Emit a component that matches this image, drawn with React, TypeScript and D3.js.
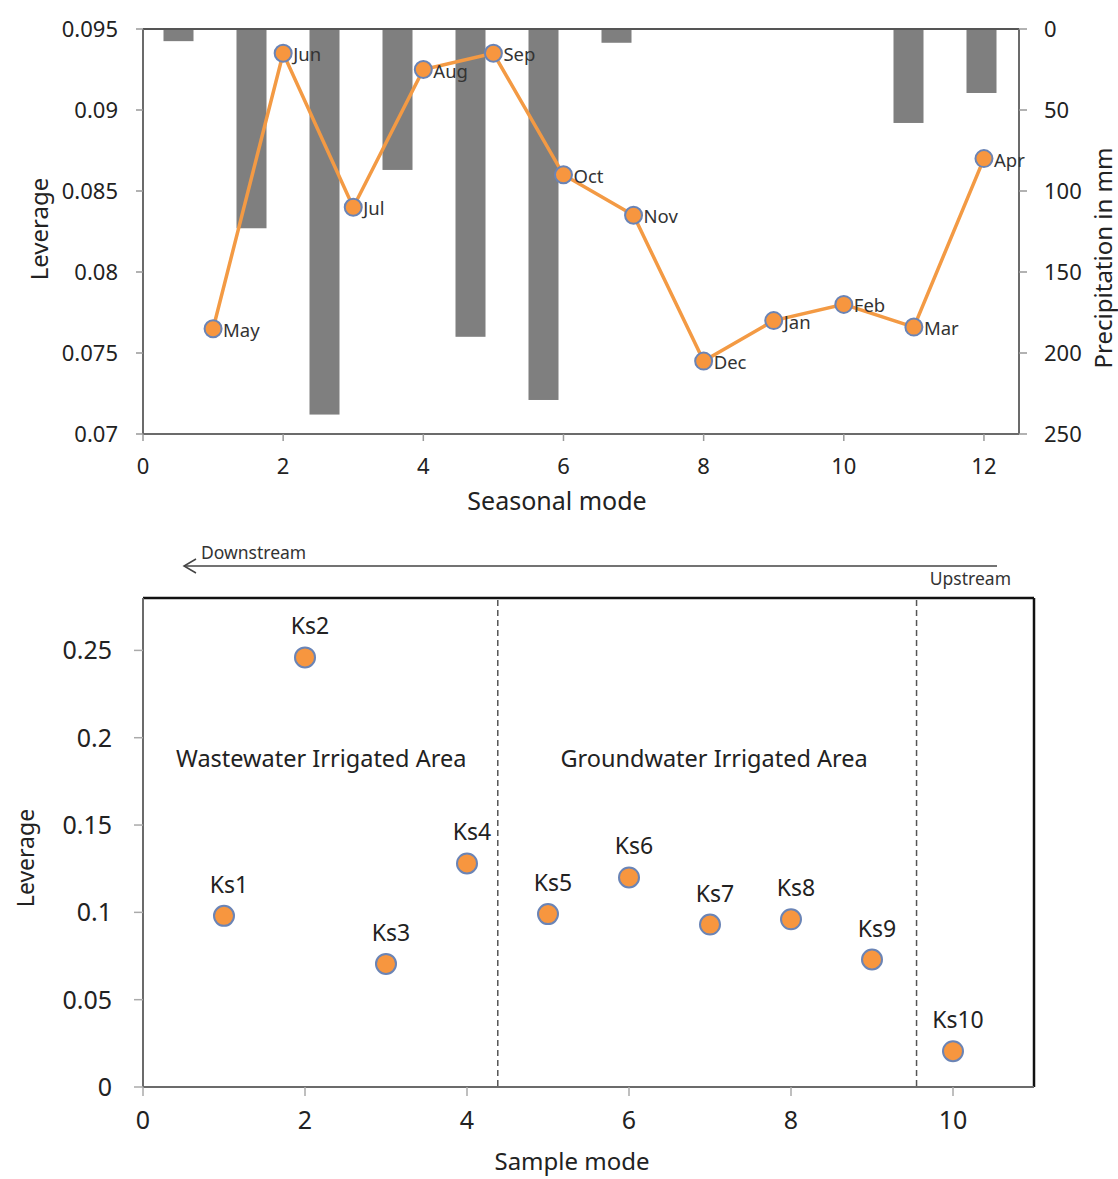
import React, { useRef, useEffect } from 'react'
import * as d3 from 'd3'

// seasonal chart
const months = ['May', 'Jun', 'Jul', 'Aug', 'Sep', 'Oct', 'Nov', 'Dec', 'Jan', 'Feb', 'Mar', 'Apr']
const seasonalMode = [1, 2, 3, 4, 5, 6, 7, 8, 9, 10, 11, 12]
const seasonalLeverage = [0.0765, 0.0935, 0.084, 0.0925, 0.0935, 0.086, 0.0835, 0.0745, 0.077, 0.078, 0.0766, 0.087]
const precipitation = [7.5, 123, 238, 87, 190, 229, 8.5, 0, 0, 0, 58, 39.5]
const seasonalXTicks = [0, 2, 4, 6, 8, 10, 12]
const leverageTicks = [0.07, 0.075, 0.08, 0.085, 0.09, 0.095]
const precipTicks = [0, 50, 100, 150, 200, 250]

// sample chart
const samples = ['Ks1', 'Ks2', 'Ks3', 'Ks4', 'Ks5', 'Ks6', 'Ks7', 'Ks8', 'Ks9', 'Ks10']
const sampleMode = [1, 2, 3, 4, 5, 6, 7, 8, 9, 10]
const sampleLeverage = [0.098, 0.246, 0.0705, 0.128, 0.099, 0.12, 0.093, 0.096, 0.073, 0.0205]
const sampleXTicks = [0, 2, 4, 6, 8, 10]
const sampleYTicks = [0, 0.05, 0.1, 0.15, 0.2, 0.25]
const areaBounds = [4.38, 9.55]
const areaLabels = [
  { text: 'Wastewater Irrigated Area', x: 2.2 },
  { text: 'Groundwater Irrigated Area', x: 7.05 },
]

const FONT = '"Noto Sans", "Open Sans", sans-serif'
const AXIS = '#6b6b6b'
const ORANGE = '#f7963f'
const RIM = '#6a84b6'

export default function App() {
  const ref = useRef<SVGSVGElement>(null)

  useEffect(() => {
    const svg = d3.select(ref.current)
    svg.selectAll('*').remove()

    // ---------- top chart ----------
    const t = { left: 143, right: 1019, top: 29, bottom: 434 }
    const x1 = d3.scaleLinear().domain([0, 12.5]).range([t.left, t.right])
    const y1 = d3.scaleLinear().domain([0.07, 0.095]).range([t.bottom, t.top])
    const yP = d3.scaleLinear().domain([0, 250]).range([t.top, t.bottom])
    const band = d3.scaleBand<number>().domain(seasonalMode).range([t.left, t.right])

    const g1 = svg.append('g')

    g1.selectAll('.bar')
      .data(precipitation)
      .join('rect')
      .attr('class', 'bar')
      .attr('x', (d, i) => band(seasonalMode[i])! + band.bandwidth() / 2 - 16)
      .attr('y', yP(0))
      .attr('width', 30)
      .attr('height', d => yP(d) - yP(0))
      .attr('fill', '#7f7f7f')

    // frame
    g1.append('line').attr('x1', t.left).attr('x2', t.right).attr('y1', t.top).attr('y2', t.top)
      .attr('stroke', '#555').attr('stroke-width', 2)
    g1.append('line').attr('x1', t.left).attr('x2', t.left).attr('y1', t.top).attr('y2', t.bottom)
      .attr('stroke', AXIS).attr('stroke-width', 2)
    g1.append('line').attr('x1', t.right).attr('x2', t.right).attr('y1', t.top).attr('y2', t.bottom)
      .attr('stroke', AXIS).attr('stroke-width', 2)
    g1.append('line').attr('x1', t.left).attr('x2', t.right).attr('y1', t.bottom).attr('y2', t.bottom)
      .attr('stroke', AXIS).attr('stroke-width', 2)

    // left ticks
    leverageTicks.forEach(v => {
      g1.append('line').attr('x1', t.left - 7).attr('x2', t.left).attr('y1', y1(v)).attr('y2', y1(v))
        .attr('stroke', '#999').attr('stroke-width', 1.5)
      g1.append('text').attr('x', t.left - 25).attr('y', y1(v) + 8)
        .attr('text-anchor', 'end').attr('font-size', 22).attr('font-family', FONT).attr('fill', '#222')
        .text(String(v))
    })
    // right ticks
    precipTicks.forEach(v => {
      g1.append('line').attr('x1', t.right).attr('x2', t.right + 8).attr('y1', yP(v)).attr('y2', yP(v))
        .attr('stroke', '#999').attr('stroke-width', 1.5)
      g1.append('text').attr('x', t.right + 25).attr('y', yP(v) + 8)
        .attr('text-anchor', 'start').attr('font-size', 22).attr('font-family', FONT).attr('fill', '#222')
        .text(String(v))
    })
    // bottom ticks
    seasonalXTicks.forEach(v => {
      g1.append('line').attr('x1', x1(v)).attr('x2', x1(v)).attr('y1', t.bottom).attr('y2', t.bottom + 7)
        .attr('stroke', '#999').attr('stroke-width', 1.5)
      g1.append('text').attr('x', x1(v)).attr('y', t.bottom + 40)
        .attr('text-anchor', 'middle').attr('font-size', 22).attr('font-family', FONT).attr('fill', '#222')
        .text(String(v))
    })

    g1.append('text').attr('x', 557).attr('y', 510).attr('text-anchor', 'middle')
      .attr('font-size', 25).attr('font-family', FONT).attr('fill', '#222').text('Seasonal mode')
    g1.append('text').attr('transform', 'translate(48,229) rotate(-90)').attr('text-anchor', 'middle')
      .attr('font-size', 24).attr('font-family', FONT).attr('fill', '#222').text('Leverage')
    g1.append('text').attr('transform', 'translate(1112,258) rotate(-90)').attr('text-anchor', 'middle')
      .attr('font-size', 24).attr('font-family', FONT).attr('fill', '#222').text('Precipitation in mm')

    const line = d3.line<number>()
      .x((d, i) => x1(seasonalMode[i]))
      .y(d => y1(d))
    g1.append('path').datum(seasonalLeverage).attr('d', line)
      .attr('fill', 'none').attr('stroke', '#f39a44').attr('stroke-width', 3.5)

    g1.selectAll('.pt')
      .data(seasonalLeverage)
      .join('circle')
      .attr('class', 'pt')
      .attr('cx', (d, i) => x1(seasonalMode[i]))
      .attr('cy', d => y1(d))
      .attr('r', 8.5)
      .attr('fill', ORANGE).attr('stroke', RIM).attr('stroke-width', 2)

    g1.selectAll('.lbl')
      .data(seasonalLeverage)
      .join('text')
      .attr('class', 'lbl')
      .attr('x', (d, i) => x1(seasonalMode[i]) + 10)
      .attr('y', d => y1(d) + 8)
      .attr('font-size', 18.5).attr('font-family', FONT).attr('fill', '#333')
      .text((d, i) => months[i])

    // ---------- bottom chart ----------
    const b = { left: 143, right: 1034, top: 598, bottom: 1087 }
    const x2 = d3.scaleLinear().domain([0, 11]).range([b.left, b.right])
    const y2 = d3.scaleLinear().domain([0, 0.28]).range([b.bottom, b.top])
    const g2 = svg.append('g')

    // arrow
    g2.append('line').attr('x1', 184).attr('x2', 997).attr('y1', 566).attr('y2', 566)
      .attr('stroke', '#444').attr('stroke-width', 1.5)
    g2.append('path').attr('d', 'M196,559 L184,566 L196,573')
      .attr('fill', 'none').attr('stroke', '#444').attr('stroke-width', 1.5)
    g2.append('text').attr('x', 201).attr('y', 559).attr('font-size', 17.5).attr('font-family', FONT)
      .attr('fill', '#333').text('Downstream')
    g2.append('text').attr('x', 1011).attr('y', 585).attr('text-anchor', 'end').attr('font-size', 17.5)
      .attr('font-family', FONT).attr('fill', '#333').text('Upstream')

    // frame
    g2.append('line').attr('x1', b.left).attr('x2', b.right).attr('y1', b.top).attr('y2', b.top)
      .attr('stroke', '#111').attr('stroke-width', 2.5)
    g2.append('line').attr('x1', b.right).attr('x2', b.right).attr('y1', b.top).attr('y2', b.bottom)
      .attr('stroke', '#111').attr('stroke-width', 2.5)
    g2.append('line').attr('x1', b.left).attr('x2', b.left).attr('y1', b.top).attr('y2', b.bottom)
      .attr('stroke', AXIS).attr('stroke-width', 2)
    g2.append('line').attr('x1', b.left).attr('x2', b.right).attr('y1', b.bottom).attr('y2', b.bottom)
      .attr('stroke', AXIS).attr('stroke-width', 2)

    sampleYTicks.forEach(v => {
      g2.append('line').attr('x1', b.left - 9).attr('x2', b.left).attr('y1', y2(v)).attr('y2', y2(v))
        .attr('stroke', '#aaa').attr('stroke-width', 1.5)
      g2.append('text').attr('x', b.left - 31).attr('y', y2(v) + 9)
        .attr('text-anchor', 'end').attr('font-size', 25).attr('font-family', FONT).attr('fill', '#222')
        .text(String(v))
    })
    sampleXTicks.forEach(v => {
      g2.append('line').attr('x1', x2(v)).attr('x2', x2(v)).attr('y1', b.bottom).attr('y2', b.bottom + 9)
        .attr('stroke', '#aaa').attr('stroke-width', 1.5)
      g2.append('text').attr('x', x2(v)).attr('y', b.bottom + 42)
        .attr('text-anchor', 'middle').attr('font-size', 25).attr('font-family', FONT).attr('fill', '#222')
        .text(String(v))
    })

    g2.append('text').attr('x', 572).attr('y', 1170).attr('text-anchor', 'middle')
      .attr('font-size', 24).attr('font-family', FONT).attr('fill', '#222').text('Sample mode')
    g2.append('text').attr('transform', 'translate(34,858) rotate(-90)').attr('text-anchor', 'middle')
      .attr('font-size', 23).attr('font-family', FONT).attr('fill', '#222').text('Leverage')

    areaBounds.forEach(v => {
      g2.append('line').attr('x1', x2(v)).attr('x2', x2(v)).attr('y1', b.top + 2).attr('y2', b.bottom)
        .attr('stroke', '#555').attr('stroke-width', 1.5).attr('stroke-dasharray', '6,4')
    })
    areaLabels.forEach(a => {
      g2.append('text').attr('x', x2(a.x)).attr('y', 767).attr('text-anchor', 'middle')
        .attr('font-size', 23.5).attr('font-family', FONT).attr('fill', '#222').text(a.text)
    })

    g2.selectAll('.spt')
      .data(sampleLeverage)
      .join('circle')
      .attr('class', 'spt')
      .attr('cx', (d, i) => x2(sampleMode[i]))
      .attr('cy', d => y2(d))
      .attr('r', 10)
      .attr('fill', ORANGE).attr('stroke', RIM).attr('stroke-width', 2)

    g2.selectAll('.slbl')
      .data(sampleLeverage)
      .join('text')
      .attr('class', 'slbl')
      .attr('x', (d, i) => x2(sampleMode[i]) + 5)
      .attr('y', d => y2(d) - 23)
      .attr('text-anchor', 'middle')
      .attr('font-size', 23).attr('font-family', FONT).attr('fill', '#222')
      .text((d, i) => samples[i])
  }, [])

  return (
    <svg ref={ref} width={1118} height={1179}
      style={{ position: 'absolute', left: 0, top: 0, background: '#fff' }} />
  )
}
